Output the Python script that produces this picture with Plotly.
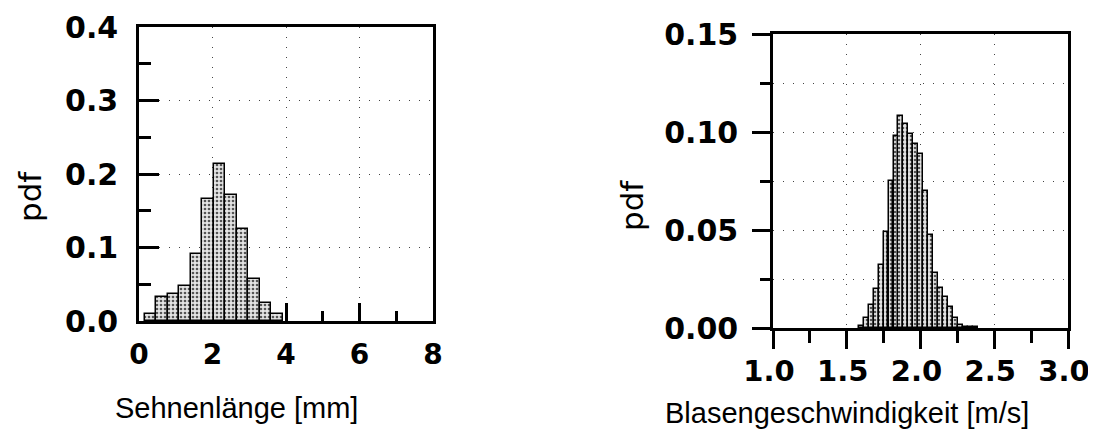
import plotly.graph_objects as go

# ---- data ----
chord_centers = [0.32, 0.63, 0.94, 1.25, 1.57, 1.88, 2.19, 2.50, 2.82, 3.13, 3.44, 3.75]
chord_pdf = [0.009, 0.033, 0.037, 0.048, 0.091, 0.166, 0.213, 0.172, 0.125, 0.057, 0.025, 0.009]

vel_centers = [1.598, 1.632, 1.665, 1.699, 1.733, 1.766, 1.800, 1.834, 1.867, 1.901,
               1.935, 1.969, 2.002, 2.036, 2.070, 2.103, 2.137, 2.171, 2.204, 2.238,
               2.272, 2.305, 2.339, 2.373]
vel_pdf = [0.001, 0.0049, 0.0116, 0.020, 0.032, 0.049, 0.075, 0.098, 0.108, 0.104,
           0.099, 0.094, 0.089, 0.070, 0.0476, 0.0279, 0.0203, 0.0156, 0.0106, 0.0049,
           0.0015, 0.0005, 0.0004, 0.0003]

left_xticks = [0, 2, 4, 6, 8]
left_yticks = [0.0, 0.1, 0.2, 0.3, 0.4]
right_xticks = [1.0, 1.5, 2.0, 2.5, 3.0]
right_yticks = [0.00, 0.05, 0.10, 0.15]

# page body has an 8px margin: figure is placed at (8, 8) in the window
OFF = 8
W, H = 1096, 424
XTICKFONT = dict(family="DejaVu Sans", size=28, color="black", weight="bold")
X2TICKFONT = dict(family="DejaVu Sans", size=29, color="black", weight="bold")
YTICKFONT = dict(family="DejaVu Sans", size=30, color="black", weight="bold")
TITLEFONT = dict(family="Liberation Sans", size=29, color="black")
PDFFONT = dict(family="DejaVu Sans", size=31, color="black")
GRID = dict(showgrid=True, gridcolor="#444", gridwidth=1, griddash="1px,9px")

fig = go.Figure()

bar_marker = dict(color="#e4e4e4", line=dict(color="black", width=1.5),
                  pattern=dict(shape=".", fgcolor="#555", bgcolor="#e4e4e4", size=4, solidity=0.35))

fig.add_trace(go.Bar(x=chord_centers, y=chord_pdf, width=0.312, marker=bar_marker,
                     xaxis="x", yaxis="y", showlegend=False))
fig.add_trace(go.Bar(x=vel_centers, y=vel_pdf, width=0.0337, marker=bar_marker,
                     xaxis="x2", yaxis="y2", showlegend=False))

def px_x(a):
    return (a - OFF) / W

def px_y(t):
    return (H - (t - OFF)) / H

axis_common = dict(showline=True, linecolor="black", linewidth=2.5, mirror=True,
                   tickcolor="black", tickwidth=2.5, zeroline=False, automargin=False)

fig.update_layout(
    template="none",
    width=W, height=H,
    margin=dict(l=0, r=0, t=0, b=0, autoexpand=False),
    paper_bgcolor="white", plot_bgcolor="white",
    bargap=0,
    xaxis=dict(domain=[px_x(139), px_x(433)], anchor="y", range=[0, 8],
               tickvals=left_xticks, ticktext=[str(v) for v in left_xticks],
               ticks="inside", ticklen=18, ticklabelstandoff=7, layer="below traces",
               tickfont=XTICKFONT,
               minor=dict(dtick=1, ticks="inside", ticklen=10, tickwidth=2.5, tickcolor="black", showgrid=False),
               **GRID, **axis_common),
    yaxis=dict(domain=[px_y(321), px_y(27)], anchor="x", range=[0, 0.4],
               tickvals=left_yticks, ticktext=[f"{v:.1f}" for v in left_yticks],
               ticks="inside", ticklen=20, ticklabelstandoff=12, tickfont=YTICKFONT,
               minor=dict(dtick=0.05, ticks="inside", ticklen=12, tickwidth=2.5, tickcolor="black", showgrid=False),
               **GRID, **axis_common),
    xaxis2=dict(domain=[px_x(773), px_x(1068)], anchor="y2", range=[1.0, 3.0],
                tickvals=right_xticks, ticktext=[f"{v:.1f}" for v in right_xticks],
                ticks="outside", ticklen=18, ticklabelstandoff=-3, ticklabelshift=-4,
                tickfont=X2TICKFONT,
                minor=dict(dtick=0.25, ticks="outside", ticklen=12, tickwidth=2.5, tickcolor="black", showgrid=False),
                **GRID, **axis_common),
    yaxis2=dict(domain=[px_y(328), px_y(34)], anchor="x2", range=[0, 0.15],
                tickvals=right_yticks, ticktext=[f"{v:.2f}" for v in right_yticks],
                ticks="outside", ticklen=18, ticklabelstandoff=8, tickfont=YTICKFONT,
                minor=dict(dtick=0.025, ticks="outside", ticklen=10, tickwidth=2.5, tickcolor="black",
                           showgrid=True, gridcolor="#444", gridwidth=1, griddash="1px,9px"),
                **GRID, **axis_common),
)

# axis titles
fig.add_annotation(text="Sehnenlänge [mm]", x=px_x(236), y=px_y(408), xref="paper", yref="paper",
                   showarrow=False, font=TITLEFONT, xanchor="center", yanchor="middle")
fig.add_annotation(text="Blasengeschwindigkeit [m/s]", x=px_x(847), y=px_y(413), xref="paper", yref="paper",
                   showarrow=False, font=TITLEFONT, xanchor="center", yanchor="middle")
fig.add_annotation(text="pdf", x=px_x(30), y=px_y(197), xref="paper", yref="paper", textangle=-90,
                   showarrow=False, font=PDFFONT, xanchor="center", yanchor="middle")
fig.add_annotation(text="pdf", x=px_x(632), y=px_y(206), xref="paper", yref="paper", textangle=-90,
                   showarrow=False, font=PDFFONT, xanchor="center", yanchor="middle")

fig.write_html("out.html")
